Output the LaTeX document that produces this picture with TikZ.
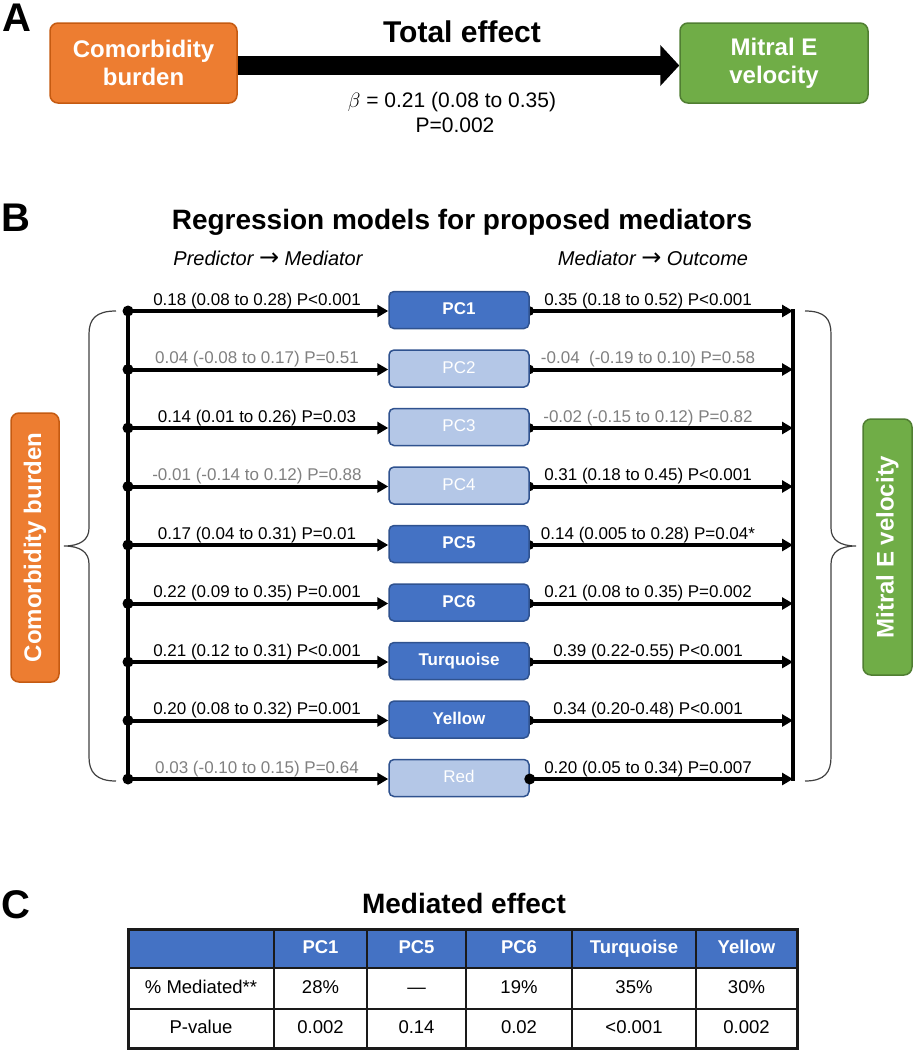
\documentclass[tikz,border=0pt]{standalone}
\usepackage{fontspec}
\setmainfont{Liberation Sans}
\newfontfamily\arrowfont{DejaVu Sans}
\usetikzlibrary{arrows.meta}
\pgfdeclarelayer{background}
\pgfsetlayers{background,main}
\definecolor{dkblue}{HTML}{4472C4}
\definecolor{ltblue}{HTML}{B4C7E7}
\definecolor{bdblue}{HTML}{2F528F}
\definecolor{orng}{HTML}{ED7D31}
\definecolor{orngbd}{HTML}{C55A11}
\definecolor{grn}{HTML}{70AD47}
\definecolor{grnbd}{HTML}{507E32}
\definecolor{nsgray}{HTML}{808080}
\definecolor{bracegray}{HTML}{404040}
\definecolor{tblline}{HTML}{1A1A1A}
\begin{document}
\begin{tikzpicture}[x=1pt,y=-1pt,
  panel/.style={font=\fontsize{40}{44}\selectfont\bfseries, inner sep=0pt},
  title/.style={font=\fontsize{28}{32}\selectfont\bfseries, inner sep=0pt},
  subtitle/.style={font=\fontsize{20}{24}\selectfont\itshape, inner sep=0pt},
  medbox/.style={rounded corners=5pt, line width=1.5pt, draw=bdblue, minimum width=140pt, minimum height=37pt, text=white, inner sep=0pt, text height=12.5pt, text depth=3.5pt},
  sigbox/.style={medbox, fill=dkblue, font=\fontsize{17}{20}\selectfont\bfseries},
  nsbox/.style={medbox, fill=ltblue, font=\fontsize{17}{20}\selectfont},
  patharrow/.style={line width=4pt, -{Triangle[length=11pt,width=12pt]}},
  coeff/.style={font=\fontsize{17}{20}\selectfont, inner sep=0pt, anchor=base},
  orngbox/.style={rounded corners=8pt, line width=1.5pt, draw=orngbd, fill=orng, text=white, font=\fontsize{24}{28}\selectfont\bfseries, align=center, inner sep=0pt},
  grnbox/.style={rounded corners=8pt, line width=1.5pt, draw=grnbd, fill=grn, text=white, font=\fontsize{24}{28}\selectfont\bfseries, align=center, inner sep=0pt},
  bracestyle/.style={draw=bracegray, line width=1.2pt},
  thead/.style={font=\fontsize{18.5}{22}\selectfont\bfseries, text=white, inner sep=0pt, text height=13.5pt, text depth=4pt},
  tcell/.style={font=\fontsize{18.5}{22}\selectfont, inner sep=0pt, text height=13.5pt, text depth=4pt},
]
\useasboundingbox (0,0) rectangle (913,1050);

% ---------------- Panel A
\node[panel] (pA) at (17,18) {A};
\node[orngbox, minimum width=187pt, minimum height=80pt] (comA) at (143.5,63) {Comorbidity\\burden};
\node[grnbox, minimum width=188pt, minimum height=80pt] (mitA) at (774,63) {Mitral E\\velocity};
\draw[line width=19pt, -{Triangle[length=19pt,width=40pt]}] ([yshift=-2.5pt]comA.east) -- ([yshift=-2.5pt]mitA.west);
\node[title, font=\fontsize{30}{34}\selectfont\bfseries] (totT) at (462,32) {Total effect};
\node[inner sep=0pt, font=\fontsize{21}{24}\selectfont] (betaT) at (452,102) {$\beta$ = 0.21 (0.08 to 0.35)};
\node[inner sep=0pt, font=\fontsize{21}{24}\selectfont] (pT) at (455,125) {P=0.002};

% ---------------- Panel B
\node[panel] (pB) at (16,218) {B};
\node[title] (regT) at (462,222) {Regression models for proposed mediators};
\node[subtitle] (pmT) at (268,258) {Predictor {\arrowfont\upshape\fontsize{24}{24}\selectfont →} Mediator};
\node[subtitle] (moT) at (653,258) {Mediator {\arrowfont\upshape\fontsize{24}{24}\selectfont →} Outcome};

\foreach \i/\nm/\sty/\ll/\lc/\rl/\rc in {
  1/PC1/sigbox/{0.18 (0.08 to 0.28) P<0.001}/black/{0.35 (0.18 to 0.52) P<0.001}/black,
  2/PC2/nsbox/{0.04 (-0.08 to 0.17) P=0.51}/nsgray/{-0.04~ (-0.19 to 0.10) P=0.58}/nsgray,
  3/PC3/nsbox/{0.14 (0.01 to 0.26) P=0.03}/black/{-0.02 (-0.15 to 0.12) P=0.82}/nsgray,
  4/PC4/nsbox/{-0.01 (-0.14 to 0.12) P=0.88}/nsgray/{0.31 (0.18 to 0.45) P<0.001}/black,
  5/PC5/sigbox/{0.17 (0.04 to 0.31) P=0.01}/black/{0.14 (0.005 to 0.28) P=0.04*}/black,
  6/PC6/sigbox/{0.22 (0.09 to 0.35) P=0.001}/black/{0.21 (0.08 to 0.35) P=0.002}/black,
  7/Turquoise/sigbox/{0.21 (0.12 to 0.31) P<0.001}/black/{0.39 (0.22-0.55) P<0.001}/black,
  8/Yellow/sigbox/{0.20 (0.08 to 0.32) P=0.001}/black/{0.34 (0.20-0.48) P<0.001}/black,
  9/Red/nsbox/{0.03 (-0.10 to 0.15) P=0.64}/nsgray/{0.20 (0.05 to 0.34) P=0.007}/black} {
  \pgfmathsetmacro{\yy}{311+58.5*(\i-1)}
  \coordinate (L\i) at (128,\yy);
  \coordinate (R\i) at (793,\yy);
  \node[\sty] (B\i) at (459,\yy-1) {\nm};
  \begin{pgfonlayer}{background}
    \fill (529,\yy) circle (5pt);
  \end{pgfonlayer}
  \draw[patharrow] (L\i) -- (L\i -| B\i.west);
  \draw[patharrow] (R\i -| B\i.east) -- (R\i);
  \fill (L\i) circle (5.5pt);
  \node[coeff, text=\lc] (lab\i) at (257,\yy-6) {\ll};
  \node[coeff, text=\rc] (rab\i) at (648,\yy-6) {\rl};
}
\fill (R9 -| B9.east) circle (5.5pt);
\draw[line width=4pt] ([yshift=2pt]L1) -- ([yshift=-2pt]L9);
\draw[line width=4pt] ([yshift=2pt]R1) -- ([yshift=-2pt]R9);

% braces
\draw[bracestyle] (116,311) .. controls (96,311) and (89,319) .. (89,334) -- (89,528)
  .. controls (89,540) and (80,546) .. (64,546) .. controls (80,546) and (89,552) .. (89,564)
  -- (89,757) .. controls (89,772) and (96,781) .. (116,781);
\draw[bracestyle] (805,311) .. controls (825,311) and (831,319) .. (831,334) -- (831,528)
  .. controls (831,540) and (840,546) .. (856,546) .. controls (840,546) and (831,552) .. (831,564)
  -- (831,757) .. controls (831,772) and (825,781) .. (805,781);

\node[orngbox, rotate=90, minimum width=269pt, minimum height=48pt] (comB) at (35,547.5) {Comorbidity burden};
\node[grnbox, rotate=90, minimum width=256pt, minimum height=49pt] (mitB) at (887.5,547) {Mitral E velocity};

% ---------------- Panel C
\node[panel] (pC) at (16,905) {C};
\node[title] (medT) at (464,903) {Mediated effect};
\fill[dkblue] (128,929) rectangle (797,968);
\foreach \xx in {274,367,466,572,696} {
  \draw[tblline, line width=2pt] (\xx,929) -- (\xx,1048);
}
\draw[tblline, line width=2pt] (128,968) -- (797,968);
\draw[tblline, line width=2pt] (128,1009) -- (797,1009);
\draw[tblline, line width=3pt] (128,929) rectangle (797,1048);

\foreach \c/\xx/\h/\m/\p in {
  1/320.5/PC1/28\%/0.002,
  2/416.5/PC5/—/0.14,
  3/519/PC6/19\%/0.02,
  4/634/Turquoise/35\%/<0.001,
  5/746.5/Yellow/30\%/0.002} {
  \node[thead] (h\c) at (\xx,948.5) {\h};
  \node[tcell] (m\c) at (\xx,988.5) {\m};
  \node[tcell] (p\c) at (\xx,1028.5) {\p};
}
\node[tcell] (mlab) at (201,988.5) {\% Mediated**};
\node[tcell] (plab) at (201,1028.5) {P-value};
\end{tikzpicture}
\end{document}
